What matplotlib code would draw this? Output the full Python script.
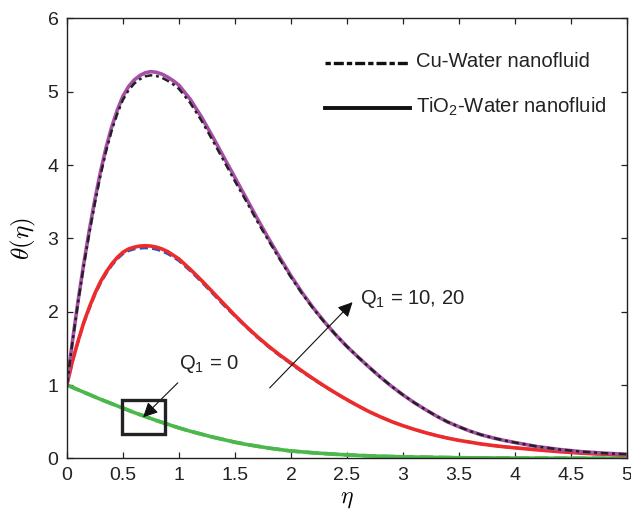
import matplotlib
matplotlib.use("Agg")
import matplotlib.pyplot as plt
from matplotlib.patches import Rectangle
from matplotlib.lines import Line2D

plt.rcParams['font.family'] = ['Liberation Sans', 'DejaVu Sans']
plt.rcParams['mathtext.fontset'] = 'cm'

# ---- data ----
eta_q20 = [0.0, 0.05, 0.1, 0.15, 0.2, 0.25, 0.3, 0.35, 0.4, 0.45, 0.5, 0.55, 0.6, 0.65,
           0.7, 0.75, 0.8, 0.85, 0.9, 0.95, 1.0, 1.1, 1.2, 1.3, 1.4, 1.5, 1.6, 1.7, 1.8,
           1.9, 2.0, 2.1, 2.2, 2.3, 2.4, 2.5, 2.6, 2.7, 2.8, 2.9, 3.0, 3.1, 3.2, 3.3, 3.4,
           3.5, 3.6, 3.7, 3.8, 3.9, 4.0, 4.2, 4.4, 4.6, 4.8, 5.0]
tio2_q20 = [1.0, 1.6, 2.15, 2.65, 3.11, 3.53, 3.91, 4.24, 4.52, 4.75, 4.94, 5.07, 5.16, 5.22,
            5.26, 5.275, 5.265, 5.24, 5.2, 5.15, 5.09, 4.9, 4.66, 4.39, 4.11, 3.83, 3.55,
            3.27, 3.0, 2.74, 2.49, 2.26, 2.05, 1.86, 1.685, 1.525, 1.38, 1.24, 1.105, 0.98,
            0.865, 0.76, 0.665, 0.575, 0.495, 0.43, 0.37, 0.32, 0.28, 0.245, 0.215, 0.16,
            0.12, 0.09, 0.07, 0.055]
cu_q20 = [1.0, 1.59, 2.13, 2.62, 3.07, 3.48, 3.86, 4.19, 4.47, 4.7, 4.89, 5.02, 5.11, 5.17,
          5.21, 5.225, 5.215, 5.19, 5.15, 5.1, 5.04, 4.85, 4.61, 4.34, 4.06, 3.78, 3.51,
          3.23, 2.97, 2.715, 2.47, 2.245, 2.04, 1.855, 1.685, 1.525, 1.38, 1.24, 1.105, 0.98,
          0.865, 0.76, 0.665, 0.575, 0.495, 0.43, 0.37, 0.32, 0.28, 0.245, 0.215, 0.16,
          0.12, 0.09, 0.07, 0.055]

eta_q10 = [0.0, 0.05, 0.1, 0.15, 0.2, 0.25, 0.3, 0.35, 0.4, 0.45, 0.5, 0.55, 0.6, 0.65,
           0.7, 0.75, 0.8, 0.85, 0.9, 0.95, 1.0, 1.1, 1.2, 1.3, 1.4, 1.5, 1.6, 1.7, 1.8,
           1.9, 2.0, 2.1, 2.2, 2.3, 2.4, 2.5, 2.6, 2.7, 2.8, 2.9, 3.0, 3.1, 3.2, 3.3, 3.4,
           3.5, 3.6, 3.7, 3.8, 3.9, 4.0, 4.2, 4.4, 4.6, 4.8, 5.0]
tio2_q10 = [1.0, 1.33, 1.6, 1.85, 2.06, 2.25, 2.41, 2.54, 2.65, 2.74, 2.81, 2.855, 2.88, 2.895,
            2.9, 2.895, 2.88, 2.855, 2.82, 2.77, 2.72, 2.58, 2.43, 2.27, 2.11, 1.95, 1.8, 1.66,
            1.53, 1.41, 1.3, 1.19, 1.085, 0.985, 0.89, 0.8, 0.715, 0.635, 0.565, 0.5, 0.445,
            0.395, 0.35, 0.31, 0.275, 0.245, 0.22, 0.195, 0.175, 0.158, 0.143, 0.115, 0.09,
            0.07, 0.055, 0.045]
cu_q10 = [1.0, 1.32, 1.59, 1.84, 2.04, 2.23, 2.39, 2.52, 2.63, 2.72, 2.79, 2.83, 2.855, 2.865,
          2.87, 2.865, 2.85, 2.825, 2.79, 2.745, 2.695, 2.56, 2.41, 2.25, 2.09, 1.94, 1.79,
          1.65, 1.52, 1.4, 1.29, 1.18, 1.078, 0.98, 0.885, 0.797, 0.713, 0.634, 0.564, 0.5,
          0.445, 0.395, 0.35, 0.31, 0.275, 0.245, 0.22, 0.195, 0.175, 0.158, 0.143, 0.115,
          0.09, 0.07, 0.055, 0.045]

eta_q0 = [0.0, 0.1, 0.2, 0.3, 0.4, 0.5, 0.6, 0.7, 0.8, 0.9, 1.0, 1.1, 1.2, 1.3, 1.4, 1.5,
          1.6, 1.7, 1.8, 1.9, 2.0, 2.2, 2.4, 2.6, 2.8, 3.0, 3.5, 4.0, 4.5, 5.0]
tio2_q0 = [1.0, 0.935, 0.87, 0.805, 0.745, 0.685, 0.625, 0.57, 0.515, 0.465, 0.415, 0.37,
           0.33, 0.29, 0.255, 0.22, 0.19, 0.165, 0.14, 0.12, 0.1, 0.075, 0.055, 0.04, 0.028,
           0.02, 0.008, 0.003, 0.001, 0.0]
cu_q0 = list(tio2_q0)

xticks = [0, 0.5, 1, 1.5, 2, 2.5, 3, 3.5, 4, 4.5, 5]
xticklabels = ['0', '0.5', '1', '1.5', '2', '2.5', '3', '3.5', '4', '4.5', '5']
yticks = [0, 1, 2, 3, 4, 5, 6]
yticklabels = ['0', '1', '2', '3', '4', '5', '6']

legend_labels = ['Cu-Water nanofluid', r'TiO$\mathregular{_2}$-Water nanofluid']

# ---- styling ----
purple = '#a64fa6'
red = '#ee2b2b'
green = '#4cb84c'
blue = '#2a55c0'
lw = 2.6

fig = plt.figure(figsize=(6.31, 5.13), dpi=100)
ax = fig.add_axes([0.106, 0.1066, 0.8877, 0.8574])

# Q1 = 0
ax.plot(eta_q0, cu_q0, color=green, lw=lw, ls='--')
ax.plot(eta_q0, tio2_q0, color=green, lw=lw)

# Q1 = 10
ax.plot(eta_q10, cu_q10, color=blue, lw=2.0, ls='--', dashes=(3, 1.5))
ax.plot(eta_q10, tio2_q10, color=red, lw=lw)

# Q1 = 20
ax.plot(eta_q20, tio2_q20, color=purple, lw=lw)
ax.plot(eta_q20, cu_q20, color='#222222', lw=1.8, dashes=(3, 1.5, 1.2, 1.5))

ax.set_xlim(0, 5)
ax.set_ylim(0, 6)
ax.set_xticks(xticks)
ax.set_xticklabels(xticklabels)
ax.set_yticks(yticks)
ax.set_yticklabels(yticklabels)
ax.tick_params(direction='in', length=4.5, width=0.9, top=True, right=True,
               labelsize=14, colors='#222222', pad=6)
for s in ax.spines.values():
    s.set_linewidth(1.0)
    s.set_color('#222222')

ax.set_xlabel(r'$\eta$', fontsize=17, labelpad=3)
ax.set_ylabel(r'$\theta(\eta)$', fontsize=18, labelpad=7)

# manual legend
ax.add_line(Line2D([0.461, 0.613], [0.898, 0.898], transform=ax.transAxes,
                   color='#111111', lw=2.4, dashes=(1.6, 0.9, 3, 0.9)))
ax.add_line(Line2D([0.461, 0.613], [0.797, 0.797], transform=ax.transAxes,
                   color='#111111', lw=2.8))
ax.text(0.623, 0.902, legend_labels[0], transform=ax.transAxes, fontsize=14.6,
        va='center', ha='left', color='#222222')
ax.text(0.623, 0.80, legend_labels[1], transform=ax.transAxes, fontsize=14.6,
        va='center', ha='left', color='#222222')

# annotations
ax.add_patch(Rectangle((0.49, 0.33), 0.385, 0.47, fill=False, lw=2.4, ec='#222222', zorder=5))
ax.annotate('', xy=(0.68, 0.56), xytext=(0.99, 1.03),
            arrowprops=dict(arrowstyle='-|>', lw=0.8, color='#111111', mutation_scale=22,
                            shrinkA=0, shrinkB=0))
ax.text(1.0, 1.28, r'Q$\mathregular{_1}$ = 0', fontsize=14.6, va='center', ha='left',
        color='#222222')
ax.annotate('', xy=(2.55, 2.13), xytext=(1.81, 0.96),
            arrowprops=dict(arrowstyle='-|>', lw=0.8, color='#111111', mutation_scale=22,
                            shrinkA=0, shrinkB=0))
ax.text(2.62, 2.17, r'Q$\mathregular{_1}$ = 10, 20', fontsize=14.6, va='center', ha='left',
        color='#222222')

fig.savefig('out.png', dpi=100)
